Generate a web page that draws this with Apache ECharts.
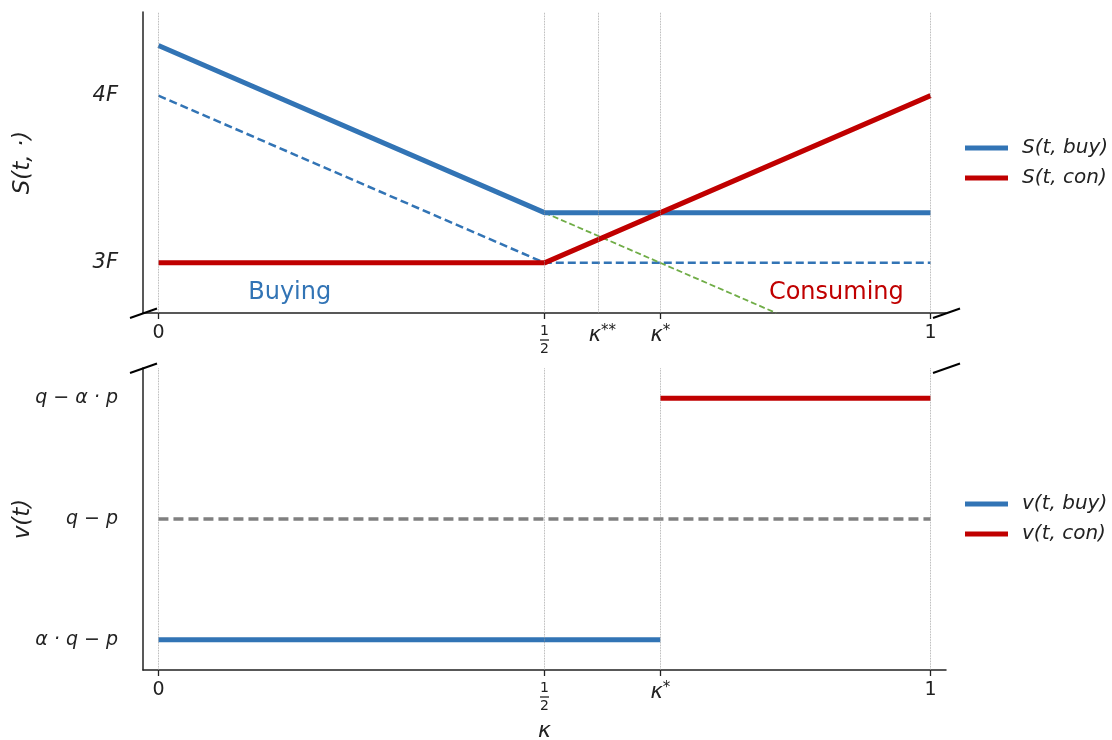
<!DOCTYPE html>
<html><head><meta charset="utf-8">
<script src="https://cdn.jsdelivr.net/npm/echarts@6/dist/echarts.min.js"></script>
<style>html,body{margin:0;padding:0;background:#fff}#c{width:1112px;height:740px}</style>
</head><body><div id="c"></div>
<script>
// ---- data ----
const kStar = 0.65, kStar2 = 0.575;
const xTopLabelValues = [0, 0.5, 0.575, 0.65, 1];
const xTopLabels = ['0', '{fn|1}\n{fb| }\n{fn|2}', '{k|κ}{s|**}', '{k|κ}{s|*}', '1'];
const xTopTickValues = [0, 0.5, 0.65, 1];
const xTopGridValues = [0, 0.5, 0.575, 0.65, 1];
const xBotLabelValues = [0, 0.5, 0.65, 1];
const xBotLabels = ['0', '{fn|1}\n{fb| }\n{fn|2}', '{k|κ}{s|*}', '1'];
const xBotGridValues = [0, 0.5, 0.65, 1];

const yTopTickValues = [3, 4];
const yTopLabels = ['3F', '4F'];
const yBotTickValues = [0, 1, 2];
const yBotLabels = ['α · q − p', 'q − p', 'q − α · p'];

const sX = [0, 0.5, 1];
const sBuy = [4.3, 3.3, 3.3];
const sCon = [3, 3, 4];
const sBuyDash = [4, 3, 3];
const greenX = [0.5, 0.8];
const greenY = [3.3, 2.7];

const vBuyX = [0, 0.65], vBuyY = [0, 0];
const vConX = [0.65, 1], vConY = [2, 2];
const vRefX = [0, 1], vRefY = [1, 1];

const annoText = ['Buying', 'Consuming'];
const annoX = [0.17, 0.878];
const annoY = [2.82, 2.82];

// ---- styles ----
const BLUE = '#3274b5', RED = '#c00000', GREEN = '#70ad47', GRAY = '#808080', INK = '#222';
const FONT = 'DejaVu Sans';
const zip = (xs, ys) => xs.map((x, i) => [x, ys[i]]);
const pickLabel = (vals, labs) => v => { let b = 0; vals.forEach((u, i) => { if (Math.abs(u - v) < Math.abs(vals[b] - v)) b = i; }); return labs[b]; };

const xRich = {
  fn: { fontSize: 14, lineHeight: 14, fontFamily: FONT, color: INK, align: 'center' },
  fb: { width: 9, height: 1.3, lineHeight: 4, backgroundColor: INK, fontSize: 2, align: 'center' },
  k: { fontSize: 21, fontStyle: 'italic', fontFamily: FONT, color: INK, lineHeight: 24 },
  s: { fontSize: 15, fontFamily: FONT, color: INK, lineHeight: 15, verticalAlign: 'top' }
};

function xAxisDef(gridIndex, labVals, labs, tickVals, withName) {
  return {
    type: 'value', gridIndex, min: -0.02, max: 1.02,
    axisLine: { onZero: false, lineStyle: { color: INK, width: 1.5 } },
    axisTick: { show: true, customValues: tickVals, length: 6, lineStyle: { color: INK, width: 1.3 } },
    axisLabel: { customValues: labVals, formatter: pickLabel(labVals, labs), fontSize: 19, fontFamily: FONT, color: INK, margin: 11, rich: xRich },
    splitLine: { show: false },
    name: withName ? 'κ' : '', nameLocation: 'middle', nameGap: 50, nameMoveOverlap: false,
    nameTextStyle: { fontSize: 22, fontStyle: 'italic', fontFamily: FONT, color: INK }
  };
}
function yAxisDef(gridIndex, min, max, vals, labs, name, gap, fs) {
  return {
    type: 'value', gridIndex, min, max,
    axisLine: { onZero: false, lineStyle: { color: INK, width: 1.5 } },
    axisTick: { show: false },
    axisLabel: { customValues: vals, formatter: pickLabel(vals, labs), fontSize: fs, fontStyle: 'italic', fontFamily: FONT, color: INK, margin: 25 },
    splitLine: { show: false },
    name, nameLocation: 'middle', nameGap: gap, nameRotate: 90, nameMoveOverlap: false,
    nameTextStyle: { fontSize: 23, fontStyle: 'italic', fontFamily: FONT, color: INK }
  };
}
const gridLine = vals => ({
  silent: true, symbol: 'none', label: { show: false },
  lineStyle: { type: 'dotted', color: '#9a9a9a', width: 0.8 },
  data: vals.map(v => ({ xAxis: v }))
});
const legendText = { fontSize: 20, fontStyle: 'italic', fontFamily: FONT, color: INK, padding: [0, 0, 0, 9] };

const chart = echarts.init(document.getElementById('c'), null, { renderer: 'canvas' });
const option = {
  animation: false,
  backgroundColor: '#fff',
  grid: [
    { left: 143, right: 166, top: 12, height: 301, containLabel: false, outerBoundsMode: 'none' },
    { left: 143, right: 166, top: 368, height: 302, containLabel: false, outerBoundsMode: 'none' }
  ],
  xAxis: [
    xAxisDef(0, xTopLabelValues, xTopLabels, xTopTickValues, false),
    xAxisDef(1, xBotLabelValues, xBotLabels, xBotLabelValues, true)
  ],
  yAxis: [
    yAxisDef(0, 2.7, 4.5, yTopTickValues, yTopLabels, 'S(t, ·)', 108, 21),
    yAxisDef(1, -0.25, 2.25, yBotTickValues, yBotLabels, 'v(t)', 108, 19)
  ],
  legend: [
    { orient: 'vertical', left: 960, top: 133, itemWidth: 43, itemHeight: 5, itemGap: 10, icon: 'rect',
      data: ['S(t, buy)', 'S(t, con)'], textStyle: legendText },
    { orient: 'vertical', left: 960, top: 489, itemWidth: 43, itemHeight: 5, itemGap: 10, icon: 'rect',
      data: ['v(t, buy)', 'v(t, con)'], textStyle: legendText }
  ],
  series: [
    { name: 'buyDash', type: 'line', xAxisIndex: 0, yAxisIndex: 0, data: zip(sX, sBuyDash), showSymbol: false,
      lineStyle: { color: BLUE, width: 2.5, type: [8, 4] }, itemStyle: { color: BLUE }, markLine: gridLine(xTopGridValues), z: 2 },
    { name: 'green', type: 'line', xAxisIndex: 0, yAxisIndex: 0, data: zip(greenX, greenY), showSymbol: false,
      lineStyle: { color: GREEN, width: 1.8, type: [6, 3] }, itemStyle: { color: GREEN }, z: 2 },
    { name: 'S(t, buy)', type: 'line', xAxisIndex: 0, yAxisIndex: 0, data: zip(sX, sBuy), showSymbol: false,
      lineStyle: { color: BLUE, width: 5 }, itemStyle: { color: BLUE }, z: 3 },
    { name: 'S(t, con)', type: 'line', xAxisIndex: 0, yAxisIndex: 0, data: zip(sX, sCon), showSymbol: false,
      lineStyle: { color: RED, width: 5 }, itemStyle: { color: RED }, z: 4 },
    { name: 'anno', type: 'scatter', xAxisIndex: 0, yAxisIndex: 0, symbolSize: 1, silent: true,
      itemStyle: { opacity: 0 },
      data: annoText.map((t, i) => ({ value: [annoX[i], annoY[i]], label: { formatter: t, color: i === 0 ? BLUE : RED } })),
      label: { show: true, position: 'inside', fontSize: 24, fontFamily: FONT, textBorderWidth: 0, opacity: 1 } },
    { name: 'ref', type: 'line', xAxisIndex: 1, yAxisIndex: 1, data: zip(vRefX, vRefY), showSymbol: false,
      lineStyle: { color: GRAY, width: 3.5, type: [10, 5] }, itemStyle: { color: GRAY }, markLine: gridLine(xBotGridValues), z: 2 },
    { name: 'v(t, buy)', type: 'line', xAxisIndex: 1, yAxisIndex: 1, data: zip(vBuyX, vBuyY), showSymbol: false,
      lineStyle: { color: BLUE, width: 5 }, itemStyle: { color: BLUE }, z: 3 },
    { name: 'v(t, con)', type: 'line', xAxisIndex: 1, yAxisIndex: 1, data: zip(vConX, vConY), showSymbol: false,
      lineStyle: { color: RED, width: 5 }, itemStyle: { color: RED }, z: 3 }
  ]
};
chart.setOption(option);

// axis break marks at grid corners
const corners = [
  chart.convertToPixel({ gridIndex: 0 }, [-0.02, 2.7]),
  chart.convertToPixel({ gridIndex: 0 }, [1.02, 2.7]),
  chart.convertToPixel({ gridIndex: 1 }, [-0.02, 2.25]),
  chart.convertToPixel({ gridIndex: 1 }, [1.02, 2.25])
];
chart.setOption({
  graphic: corners.map(c => ({
    type: 'line', silent: true, z: 100,
    shape: { x1: c[0] - 13, y1: c[1] + 5, x2: c[0] + 14, y2: c[1] - 4.5 },
    style: { stroke: '#000', lineWidth: 2 }
  }))
});
</script></body></html>
